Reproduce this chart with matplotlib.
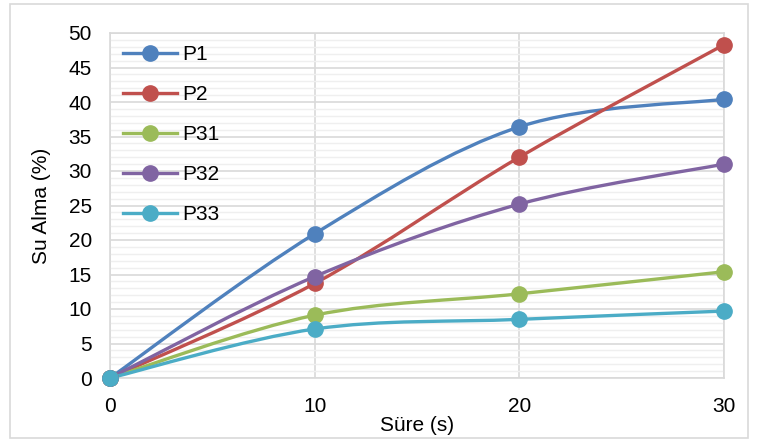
import matplotlib
matplotlib.use("Agg")
import matplotlib.pyplot as plt
from matplotlib.path import Path
from matplotlib.patches import PathPatch, Rectangle
from matplotlib.lines import Line2D
import numpy as np

plt.rcParams['font.family'] = ['Liberation Sans', 'DejaVu Sans']

x = [0, 10, 20, 30]
series_names = ["P1", "P2", "P31", "P32", "P33"]
p1 = [0, 20.9, 36.4, 40.4]
p2 = [0, 13.7, 32.0, 48.3]
p31 = [0, 9.1, 12.2, 15.4]
p32 = [0, 14.7, 25.2, 31.0]
p33 = [0, 7.1, 8.5, 9.7]
colors = ["#4F81BD", "#C0504D", "#9BBB59", "#8064A2", "#4BACC6"]
all_series = [p1, p2, p31, p32, p33]

fig = plt.figure(figsize=(7.58, 4.41), dpi=100)
W, H = 758, 441
ax = fig.add_axes([110 / W, 1 - 378 / H, (724 - 110) / W, (378 - 33) / H])

# outer chart border
fig.patches.append(Rectangle((10 / W, 3 / H), 738 / W, 434 / H, transform=fig.transFigure,
                             fill=False, edgecolor="#D9D9D9", linewidth=1.2))


def smooth_path(xs, ys):
    pts = np.column_stack([xs, ys]).astype(float)
    n = len(pts)
    verts = [pts[0]]
    codes = [Path.MOVETO]
    for i in range(n - 1):
        p0 = pts[i - 1] if i > 0 else pts[i]
        p1_ = pts[i]
        p2_ = pts[i + 1]
        p3 = pts[i + 2] if i + 2 < n else pts[i + 1]
        c1 = p1_ + (p2_ - p0) / 6.0
        c2 = p2_ - (p3 - p1_) / 6.0
        verts += [c1, c2, p2_]
        codes += [Path.CURVE4] * 3
    return Path(verts, codes)


handles = []
for name, ys, c in zip(series_names, all_series, colors):
    patch = PathPatch(smooth_path(x, ys), facecolor="none", edgecolor=c, linewidth=2.4,
                      zorder=3, capstyle="round", joinstyle="round")
    ax.add_patch(patch)
    ax.plot(x, ys, linestyle="none", marker="o", markersize=11, color=c, zorder=4,
            clip_on=False)
    handles.append(Line2D([0], [0], color=c, linewidth=2.4, marker="o", markersize=11,
                          label=name))

ax.set_xlim(0, 30)
ax.set_ylim(0, 50)
ax.set_xticks([0, 10, 20, 30])
ax.set_yticks(np.arange(0, 51, 5))
ax.set_yticks(np.arange(0, 51, 1), minor=True)
ax.grid(which="major", color="#D9D9D9", linewidth=1.2, zorder=0)
ax.grid(which="minor", axis="y", color="#EFEFEF", linewidth=1.0, zorder=0)
ax.set_axisbelow(True)
for s in ax.spines.values():
    s.set_color("#D9D9D9")
    s.set_linewidth(1.2)
ax.tick_params(which="both", length=0)
ax.tick_params(axis="x", pad=14, labelsize=15)
ax.tick_params(axis="y", pad=13, labelsize=15)
ax.set_xlabel("Süre (s)", fontsize=15, labelpad=0)
ax.set_ylabel("Su Alma (%)", fontsize=15, labelpad=13)

leg = ax.legend(handles=handles, loc="upper left", frameon=False, fontsize=15,
                handlelength=2.6, labelspacing=1.0, borderaxespad=0.2, borderpad=0.4,
                handletextpad=0.25, bbox_to_anchor=(0.0, 1.0))

fig.savefig("out.png", dpi=100)
